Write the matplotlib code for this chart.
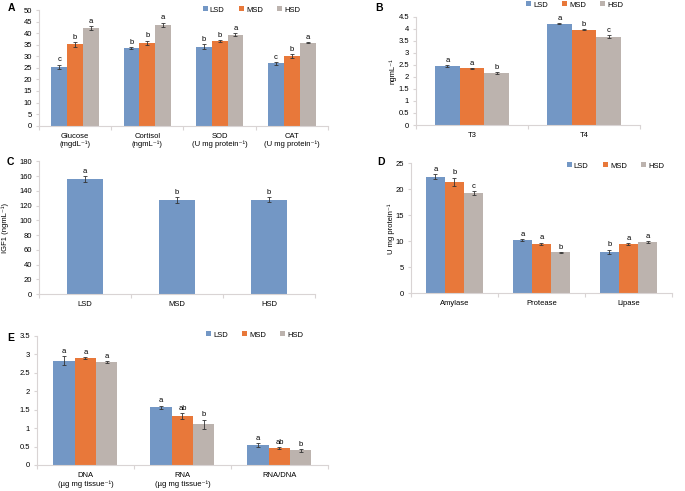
import matplotlib
matplotlib.use("Agg")
import matplotlib.pyplot as plt
import numpy as np

plt.rcParams['font.family'] = ['Liberation Sans', 'DejaVu Sans']
plt.rcParams['font.size'] = 5.5

groups = ['LSD', 'MSD', 'HSD']
colors = ['#7397C5', '#E8783A', '#BCB3AE']

# Panel A
a_cats = ['Glucose\n(mgdL\u207b\u00b9)', 'Cortisol\n(ngmL\u207b\u00b9)',
          'SOD\n(U mg protein\u207b\u00b9)', 'CAT\n(U mg protein\u207b\u00b9)']
a_vals = [[25.3, 33.6, 34.2, 26.9],
          [35.2, 35.8, 36.6, 30.0],
          [42.2, 43.6, 39.4, 35.9]]
a_err = [[1.0, 0.3, 0.9, 0.6],
         [1.0, 1.0, 0.4, 0.9],
         [0.7, 1.0, 0.5, 0.2]]
a_let = [['c', 'b', 'b', 'c'],
         ['b', 'b', 'b', 'b'],
         ['a', 'a', 'a', 'a']]

# Panel B
b_cats = ['T3', 'T4']
b_vals = [[2.45, 4.21], [2.35, 3.96], [2.16, 3.67]]
b_err = [[0.03, 0.02], [0.02, 0.03], [0.03, 0.06]]
b_let = [['a', 'a'], ['a', 'b'], ['b', 'c']]

# Panel C
c_cats = ['LSD', 'MSD', 'HSD']
c_vals = [155.5, 127.5, 128.0]
c_err = [4.0, 3.5, 3.5]
c_let = ['a', 'b', 'b']

# Panel D
d_cats = ['Amylase', 'Protease', 'Lipase']
d_vals = [[22.4, 10.2, 8.0], [21.4, 9.5, 9.5], [19.3, 7.85, 9.8]]
d_err = [[0.5, 0.15, 0.4], [0.8, 0.2, 0.15], [0.35, 0.05, 0.2]]
d_let = [['a', 'a', 'b'], ['b', 'a', 'a'], ['c', 'b', 'a']]

# Panel E
e_cats = ['DNA\n(\u00b5g mg tissue\u207b\u00b9)', 'RNA\n(\u00b5g mg tissue\u207b\u00b9)', 'RNA/DNA']
e_vals = [[2.82, 1.56, 0.55], [2.90, 1.32, 0.46], [2.78, 1.10, 0.40]]
e_err = [[0.12, 0.05, 0.05], [0.03, 0.08, 0.03], [0.03, 0.13, 0.04]]
e_let = [['a', 'a', 'a'], ['a', 'ab', 'ab'], ['a', 'b', 'b']]

spine_c = '#D9D4D4'


def style_axes(ax, ncat, ymax, ystep):
    ax.set_xlim(-0.5, ncat - 0.5)
    ax.set_ylim(0, ymax)
    ticks = np.arange(0, ymax + ystep / 2, ystep)
    ax.set_yticks(ticks)
    ax.set_yticklabels(['%g' % t for t in ticks])
    ax.set_xticks(np.arange(-0.5, ncat, 1.0))
    ax.set_xticklabels([])
    ax.set_xticks(np.arange(ncat), minor=True)
    ax.tick_params(axis='x', which='major', length=3, color=spine_c, width=0.8)
    ax.tick_params(axis='x', which='minor', length=0, pad=5)
    ax.tick_params(axis='y', length=2.5, color=spine_c, width=0.8, pad=2.5)
    for s in ['top', 'right']:
        ax.spines[s].set_visible(False)
    for s in ['left', 'bottom']:
        ax.spines[s].set_color(spine_c)
        ax.spines[s].set_linewidth(0.8)


def grouped(ax, cats, vals, errs, lets, ymax, ystep, off):
    n = len(cats)
    x = np.arange(n)
    w = 0.22
    handles = []
    for i in range(3):
        xs = x + (i - 1) * w
        h = ax.bar(xs, vals[i], w, color=colors[i], linewidth=0, label=groups[i])
        handles.append(h)
        ax.errorbar(xs, vals[i], yerr=errs[i], fmt='none', ecolor='#333333',
                    elinewidth=0.6, capsize=1.5, capthick=0.6)
        for j in range(n):
            ax.text(xs[j], vals[i][j] + errs[i][j] + off, lets[i][j],
                    ha='center', va='bottom', fontsize=5.5)
    style_axes(ax, n, ymax, ystep)
    ax.set_xticklabels(cats, minor=True)
    return handles


def legend(handles, x, y):
    fig.legend(handles, groups, loc='center left', bbox_to_anchor=(x, y), ncol=3,
               frameon=False, handlelength=0.6, handleheight=0.6, handletextpad=0.3,
               columnspacing=1.9, fontsize=5.5, borderaxespad=0, borderpad=0)


fig = plt.figure(figsize=(6.85, 4.91), dpi=100)

axA = fig.add_axes([0.0569, 0.744, 0.4219, 0.2356])
hA = grouped(axA, a_cats, a_vals, a_err, a_let, 50, 5, 0.6)
legend(hA, 203 / 685, 1 - 10 / 491)

axB = fig.add_axes([0.6073, 0.7454, 0.327, 0.2206])
hB = grouped(axB, b_cats, b_vals, b_err, b_let, 4.5, 0.5, 0.05)
axB.set_ylabel('ngmL\u207b\u00b9')
axB.yaxis.set_label_coords(-0.089, 0.5)
legend(hB, 526 / 685, 1 - 5 / 491)

axC = fig.add_axes([0.0569, 0.4012, 0.403, 0.2703])
xc = np.arange(3)
axC.bar(xc, c_vals, 0.4, color=colors[0], linewidth=0)
axC.errorbar(xc, c_vals, yerr=c_err, fmt='none', ecolor='#333333',
             elinewidth=0.6, capsize=1.5, capthick=0.6)
for j in range(3):
    axC.text(xc[j], c_vals[j] + c_err[j] + 1.5, c_let[j], ha='center', va='bottom', fontsize=5.5)
style_axes(axC, 3, 180, 20)
axC.set_xticklabels(c_cats, minor=True)
axC.set_ylabel('IGF1 (ngmL\u207b\u00b9)')
axC.yaxis.set_label_coords(-0.109, 0.5)

axD = fig.add_axes([0.6, 0.4026, 0.381, 0.2648])
hD = grouped(axD, d_cats, d_vals, d_err, d_let, 25, 5, 0.3)
axD.set_ylabel('U mg protein\u207b\u00b9')
axD.yaxis.set_label_coords(-0.061, 0.5)
legend(hD, 567 / 685, 1 - 166 / 491)

axE = fig.add_axes([0.054, 0.053, 0.4248, 0.2633])
hE = grouped(axE, e_cats, e_vals, e_err, e_let, 3.5, 0.5, 0.03)
legend(hE, 206 / 685, 1 - 335 / 491)

for lab, (px, py) in zip('ABCDE', [(8, 8), (375, 8), (7, 162), (377, 162), (7, 338)]):
    fig.text(px / 685, 1 - py / 491, lab, fontsize=7.5, fontweight='bold', ha='left', va='center')

fig.savefig('out.png', dpi=100)
